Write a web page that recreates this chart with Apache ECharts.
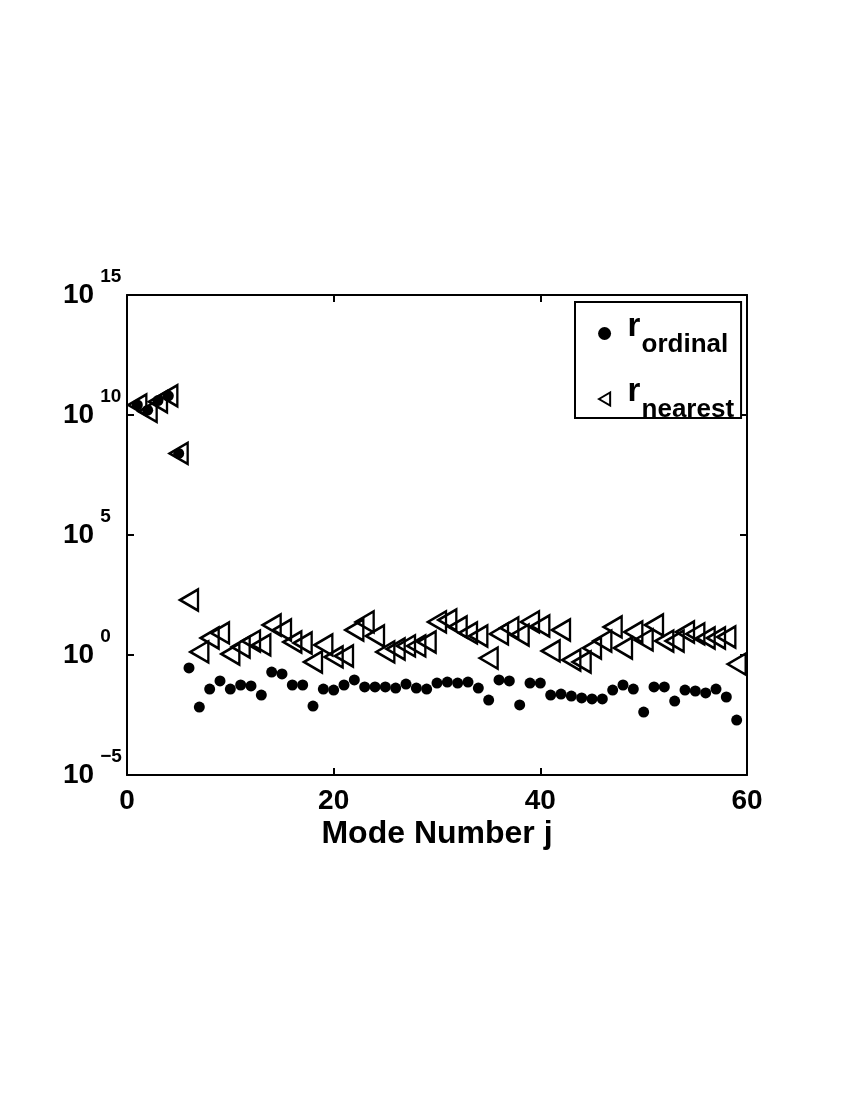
<!DOCTYPE html>
<html>
<head>
<meta charset="utf-8">
<script src="https://cdn.jsdelivr.net/npm/echarts@6/dist/echarts.min.js"></script>
<style>
  html, body { margin: 0; background: #fff; }
  #chart { width: 850px; height: 1100px; }
</style>
</head>
<body>
<div id="chart"></div>
<script>
// mode number j = 1..59
var modeNumbers = [1, 2, 3, 4, 5, 6, 7, 8, 9, 10, 11, 12, 13, 14, 15, 16, 17, 18, 19, 20,
  21, 22, 23, 24, 25, 26, 27, 28, 29, 30, 31, 32, 33, 34, 35, 36, 37, 38, 39, 40,
  41, 42, 43, 44, 45, 46, 47, 48, 49, 50, 51, 52, 53, 54, 55, 56, 57, 58, 59]

// values, as log10(r)
var ordinalLog = [10.42, 10.2, 10.6, 10.8, 8.4, -0.54, -2.17, -1.42, -1.08, -1.42,
  -1.25, -1.29, -1.67, -0.71, -0.79, -1.25, -1.25, -2.13, -1.42, -1.46,
  -1.25, -1.04, -1.33, -1.33, -1.33, -1.38, -1.21, -1.38, -1.42, -1.17,
  -1.13, -1.17, -1.13, -1.38, -1.88, -1.04, -1.08, -2.08, -1.17, -1.17,
  -1.67, -1.63, -1.71, -1.79, -1.83, -1.83, -1.46, -1.25, -1.42, -2.38,
  -1.33, -1.33, -1.92, -1.46, -1.5, -1.58, -1.42, -1.75, -2.71]

var nearestLog = [10.42, 10.15, 10.55, 10.8, 8.4, 2.29, 0.13, 0.71, 0.92, 0.04,
  0.33, 0.58, 0.42, 1.25, 1.04, 0.54, 0.5, -0.29, 0.42, -0.08,
  -0.04, 1.04, 1.38, 0.79, 0.13, 0.25, 0.38, 0.38, 0.54, 1.38,
  1.46, 1.17, 0.92, 0.79, -0.13, 0.88, 1.13, 0.83, 1.38, 1.21,
  0.17, 1.04, -0.21, -0.29, 0.29, 0.58, 1.17, 0.29, 0.96, 0.63,
  1.25, 0.58, 0.58, 0.96, 0.88, 0.71, 0.71, 0.75, -0.38]

var xTicks = [0, 20, 40, 60]
var yTicks = [-5, 0, 5, 10, 15]

var font = 'Liberation Sans, Arial, Helvetica, sans-serif'

function pairs (ys) {
  return modeNumbers.map(function (j, i) { return [j, ys[i]] })
}

function yLabel (v) {
  var e = v < 0 ? '\u2212' + (-v) : '' + v
  return '{b|10}{s|' + e + '}'
}

var chart = echarts.init(document.getElementById('chart'), null, { renderer: 'canvas' })

var axisLine = { show: true, onZero: false, lineStyle: { color: '#000', width: 2 } }
var axisTick = { show: true, inside: true, length: 7, lineStyle: { color: '#000', width: 2 } }

var option = {
  backgroundColor: '#fff',
  animation: false,
  grid: { left: 127, top: 295, right: 103, bottom: 325 },
  legend: {
    left: 575,
    top: 302,
    orient: 'vertical',
    padding: [8, 7, -5, 23],
    itemGap: 18,
    itemWidth: 36,
    itemHeight: 13,
    backgroundColor: '#fff',
    borderColor: '#000',
    borderWidth: 2,
    borderRadius: 0,
    align: 'left',
    data: [
      { name: 'ordinal', icon: 'circle' },
      { name: 'nearest', icon: 'path://M0,7L12,0L12,14Z' }
    ],
    // r on the first line, the subscript on a second, shallow line
    formatter: function (name) { return '{r|r}\n{sub|' + name + '}' },
    textStyle: {
      color: '#000',
      rich: {
        r: { fontSize: 33, fontWeight: 'bold', fontFamily: font, color: '#000', lineHeight: 22 },
        sub: { fontSize: 26, fontWeight: 'bold', fontFamily: font, color: '#000', lineHeight: 14, padding: [0, 0, 0, 14] }
      }
    }
  },
  xAxis: [
    {
      type: 'value',
      position: 'bottom',
      min: 0,
      max: 60,
      interval: 20,
      axisLine: axisLine,
      axisTick: axisTick,
      splitLine: { show: false },
      axisLabel: { fontSize: 28, fontWeight: 'bold', fontFamily: font, color: '#000', margin: 12 },
      name: 'Mode Number j',
      nameLocation: 'middle',
      nameGap: 43,
      nameTextStyle: { fontSize: 32, fontWeight: 'bold', fontFamily: font, color: '#000' }
    },
    {
      type: 'value',
      position: 'top',
      min: 0,
      max: 60,
      interval: 20,
      axisLine: axisLine,
      axisTick: axisTick,
      splitLine: { show: false },
      axisLabel: { show: false }
    }
  ],
  yAxis: [
    {
      type: 'value',
      position: 'left',
      min: yTicks[0],
      max: yTicks[yTicks.length - 1],
      interval: 5,
      axisLine: axisLine,
      axisTick: axisTick,
      splitLine: { show: false },
      axisLabel: {
        align: 'left',
        margin: 64,
        formatter: yLabel,
        rich: {
          b: { fontSize: 28, fontWeight: 'bold', fontFamily: font, color: '#000', lineHeight: 28 },
          s: { fontSize: 19, fontWeight: 'bold', fontFamily: font, color: '#000', lineHeight: 19, padding: [0, 0, 36, 6] }
        }
      }
    },
    {
      type: 'value',
      position: 'right',
      min: yTicks[0],
      max: yTicks[yTicks.length - 1],
      interval: 5,
      axisLine: axisLine,
      axisTick: axisTick,
      splitLine: { show: false },
      axisLabel: { show: false }
    }
  ],
  series: [
    {
      name: 'ordinal',
      type: 'scatter',
      symbol: 'circle',
      symbolSize: 11,
      itemStyle: { color: '#000', opacity: 1 },
      data: pairs(ordinalLog)
    },
    {
      name: 'nearest',
      type: 'scatter',
      symbol: 'triangle',
      symbolRotate: 90,
      symbolSize: [21, 18],
      itemStyle: { color: 'rgba(0,0,0,0)', borderColor: '#000', borderWidth: 2.5, opacity: 1 },
      data: pairs(nearestLog)
    }
  ]
}

chart.setOption(option)
</script>
</body>
</html>
